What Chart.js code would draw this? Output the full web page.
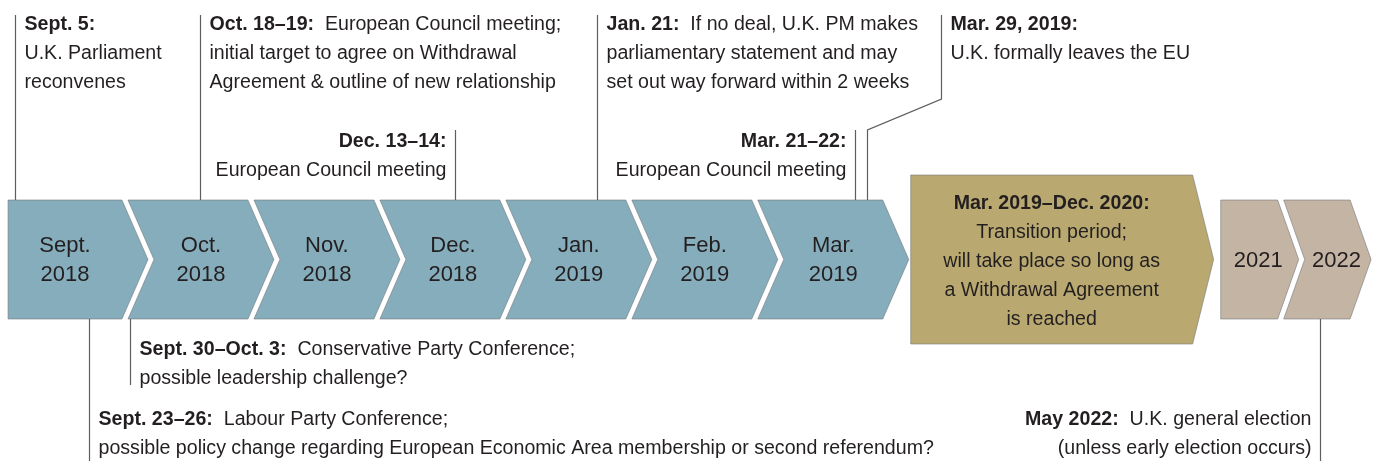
<!DOCTYPE html>
<html>
<head>
<meta charset="utf-8">
<script src="https://cdn.jsdelivr.net/npm/chart.js@4"></script>
<style>
  html, body { margin: 0; padding: 0; background: #fff; }
  #wrap { width: 1375px; height: 461px; position: relative; }
</style>
</head>
<body>
<div id="wrap"><canvas id="timeline"></canvas></div>
<script>
// timeline slots: one unit = one month of the 2018-19 run
const monthLabels = [['Sept.', '2018'], ['Oct.', '2018'], ['Nov.', '2018'], ['Dec.', '2018'], ['Jan.', '2019'], ['Feb.', '2019'], ['Mar.', '2019']];
const monthStart = [0.048, 1, 2, 3, 4, 5, 6];
const monthEnd = [1, 2, 3, 4, 5, 6, 7.04];

const transitionLabel = [['Mar. 2019–Dec. 2020:', 'Transition period;', 'will take place so long as', 'a Withdrawal Agreement', 'is reached']];
const transitionStart = [7.214];
const transitionEnd = [9.5];

const yearLabels = [['2021'], ['2022']];
const yearStart = [9.675, 10.175];
const yearEnd = [10.175, 10.75];

// events: bold date, text lines (first one goes after the date), slot of the leader line
const eventDates = ['Sept. 5:', 'Oct. 18–19:', 'Dec. 13–14:', 'Jan. 21:', 'Mar. 21–22:', 'Mar. 29, 2019:', 'Sept. 30–Oct. 3:', 'Sept. 23–26:', 'May 2022:'];
const eventLines = [
    ['', 'U.K. Parliament', 'reconvenes'],
    ['European Council meeting;', 'initial target to agree on Withdrawal', 'Agreement & outline of new relationship'],
    ['', 'European Council meeting'],
    ['If no deal, U.K. PM makes', 'parliamentary statement and may', 'set out way forward within 2 weeks'],
    ['', 'European Council meeting'],
    ['', 'U.K. formally leaves the EU'],
    ['Conservative Party Conference;', 'possible leadership challenge?'],
    ['Labour Party Conference;', 'possible policy change regarding European Economic Area membership or second referendum?'],
    ['U.K. general election', '(unless early election occurs)']
];
const eventSlot = [0.1, 1.57, 3.6, 4.72, 6.77, 6.87, 1.016, 0.69, 10.46];

// where each event's text sits (layout only)
const eventLayout = [
    { align: 'left', y: 30, lineTo: 15 },
    { align: 'left', y: 30, lineTo: 15 },
    { align: 'right', y: 147, lineTo: 130 },
    { align: 'left', y: 30, lineTo: 15 },
    { align: 'right', y: 147, lineTo: 130 },
    { align: 'left', y: 30, lineTo: 15, bendSlot: 7.455, bendLow: 130, bendHigh: 99 },
    { align: 'left', y: 355, lineTo: 385 },
    { align: 'left', y: 425, lineTo: 461 },
    { align: 'right', y: 425, lineTo: 461 }
];

const FONT = '"Liberation Sans", Arial, sans-serif';
const TEXT_COLOR = '#231f20';
const LINE_COLOR = '#5d5e60';
const EVENT_SIZE = 19.6;

function toPoints(starts, ends) {
    return starts.map((s, i) => ({ x: [s, ends[i]], y: 'timeline' }));
}

function chevronPath(ctx, L, R, T, B, depth, notch, gap) {
    const tr = R - gap, mid = (T + B) / 2;
    ctx.beginPath();
    ctx.moveTo(L, T);
    ctx.lineTo(tr, T);
    ctx.lineTo(tr + depth, mid);
    ctx.lineTo(tr, B);
    ctx.lineTo(L, B);
    if (notch) ctx.lineTo(L + depth, mid);
    ctx.closePath();
}

const chevronPlugin = {
    id: 'chevrons',
    beforeDatasetDraw(chart, args) {
        const ctx = chart.ctx;
        const ds = chart.data.datasets[args.index];
        const meta = args.meta;
        meta.data.forEach((bar, i) => {
            const p = bar.getProps(['x', 'y', 'base', 'height'], true);
            const L = Math.min(p.x, p.base), R = Math.max(p.x, p.base);
            const T = p.y - p.height / 2, B = p.y + p.height / 2;
            const notch = i > 0;
            chevronPath(ctx, L, R, T, B, ds.tipDepth, notch, 6);
            ctx.fillStyle = ds.backgroundColor;
            ctx.fill();
            ctx.lineWidth = 1;
            ctx.strokeStyle = 'rgba(110,115,118,0.55)';
            ctx.stroke();

            const lines = ds.texts[i];
            const leftMid = notch ? L + ds.tipDepth : L;
            const cx = (leftMid + R - 6) / 2 + ds.textShift;
            ctx.fillStyle = TEXT_COLOR;
            ctx.textAlign = 'center';
            ctx.textBaseline = 'alphabetic';
            lines.forEach((t, k) => {
                const bold = ds.boldFirst && k === 0;
                ctx.font = (bold ? 'bold ' : '') + ds.fontSize + 'px ' + FONT;
                const y = p.y + (k - (lines.length - 1) / 2) * 29 + 7;
                ctx.fillText(t, cx, y);
            });
        });
        return false;
    },
    afterDatasetsDraw(chart) {
        const ctx = chart.ctx;
        const xs = chart.scales.x;
        const bar = chart.getDatasetMeta(0).data[0].getProps(['y', 'height'], true);
        const barTop = bar.y - bar.height / 2, barBottom = bar.y + bar.height / 2;
        ctx.save();
        ctx.strokeStyle = LINE_COLOR;
        ctx.lineWidth = 1.2;
        eventDates.forEach((date, i) => {
            const lay = eventLayout[i];
            const lx = Math.round(xs.getPixelForValue(eventSlot[i])) + 0.5;
            // leader line
            ctx.beginPath();
            let textAnchor = lx;
            if (lay.bendSlot !== undefined) {
                const bx = Math.round(xs.getPixelForValue(lay.bendSlot)) + 0.5;
                ctx.moveTo(lx, barTop);
                ctx.lineTo(lx, lay.bendLow);
                ctx.lineTo(bx, lay.bendHigh);
                ctx.lineTo(bx, lay.lineTo);
                textAnchor = bx;
            } else if (lay.lineTo < barTop) {
                ctx.moveTo(lx, barTop);
                ctx.lineTo(lx, lay.lineTo);
            } else {
                ctx.moveTo(lx, barBottom);
                ctx.lineTo(lx, lay.lineTo);
            }
            ctx.stroke();

            // text
            ctx.fillStyle = TEXT_COLOR;
            ctx.textBaseline = 'alphabetic';
            ctx.textAlign = 'left';
            const lines = eventLines[i];
            const boldFont = 'bold ' + EVENT_SIZE + 'px ' + FONT;
            const regFont = EVENT_SIZE + 'px ' + FONT;
            lines.forEach((t, k) => {
                const y = lay.y + k * 29;
                let parts;
                if (k === 0) parts = t ? [[date, boldFont], ['  ' + t, regFont]] : [[date, boldFont]];
                else parts = [[t, regFont]];
                let total = 0;
                parts.forEach(([s, f]) => { ctx.font = f; total += ctx.measureText(s).width; });
                let x = lay.align === 'left' ? textAnchor + 9 : textAnchor - 9 - total;
                parts.forEach(([s, f]) => {
                    ctx.font = f;
                    ctx.fillText(s, x, y);
                    x += ctx.measureText(s).width;
                });
            });
        });
        ctx.restore();
    }
};

new Chart(document.getElementById('timeline'), {
    type: 'bar',
    data: {
        labels: ['timeline'],
        datasets: [
            {
                label: 'Months',
                data: toPoints(monthStart, monthEnd),
                texts: monthLabels,
                backgroundColor: '#86adbb',
                barThickness: 119,
                grouped: false,
                tipDepth: 26,
                textShift: 0,
                fontSize: 22
            },
            {
                label: 'Transition',
                data: toPoints(transitionStart, transitionEnd),
                texts: transitionLabel,
                backgroundColor: '#b9a970',
                barThickness: 169,
                grouped: false,
                tipDepth: 21,
                textShift: 0,
                fontSize: 19.6,
                boldFirst: true
            },
            {
                label: 'Years',
                data: toPoints(yearStart, yearEnd),
                texts: yearLabels,
                backgroundColor: '#c3b4a3',
                barThickness: 119,
                grouped: false,
                tipDepth: 21,
                textShift: 9,
                fontSize: 22
            }
        ]
    },
    options: {
        indexAxis: 'y',
        responsive: true,
        maintainAspectRatio: false,
        animation: false,
        layout: { padding: { left: 2, right: 0, top: 58, bottom: 0 } },
        scales: {
            x: { type: 'linear', min: 0, max: 10.9, display: false },
            y: { display: false }
        },
        plugins: {
            legend: { display: false },
            tooltip: { enabled: false }
        }
    },
    plugins: [chevronPlugin]
});
</script>
</body>
</html>
